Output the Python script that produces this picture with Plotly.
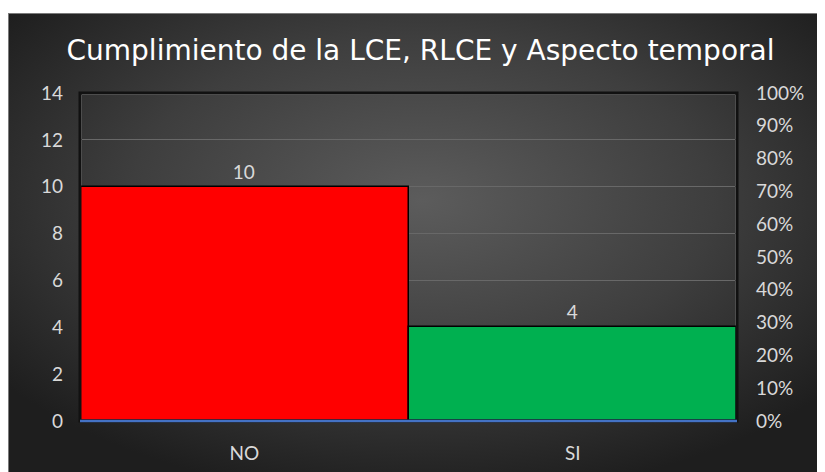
import base64
import plotly.graph_objects as go

categories = ["NO", "SI"]
values = [10, 4]
bar_colors = ["#FF0000", "#00B050"]
left_ticks = [0, 2, 4, 6, 8, 10, 12, 14]
right_ticks = [0, 10, 20, 30, 40, 50, 60, 70, 80, 90, 100]
right_tick_labels = [f"{v}%" for v in right_ticks]

# page body has an 8px margin, so figure coords = screen coords - 8
W, H = 825, 472
L, T = 72, 85
PR, PB = 729, 413          # plot right / bottom in figure px
R, B = W - PR, H - PB
pw, ph = PR - L, PB - T

svg = f'''<svg xmlns="http://www.w3.org/2000/svg" width="{W}" height="{H}" viewBox="0 0 {W} {H}" preserveAspectRatio="none">
<defs><radialGradient id="g" cx="50%" cy="40%" r="64%">
<stop offset="0%" stop-color="#5c5c5c"/><stop offset="55%" stop-color="#3e3e3e"/><stop offset="100%" stop-color="#1e1e1e"/>
</radialGradient></defs>
<rect x="0.5" y="0.5" width="{W-1}" height="{H-1}" fill="url(#g)" stroke="#7a7a7a" stroke-width="1"/>
</svg>'''
src = "data:image/svg+xml;base64," + base64.b64encode(svg.encode()).decode()

x0px, y0px = 0, 5
img_x = (x0px - L) / pw
img_y = (PB - y0px) / ph
img_sx = (W - x0px + 2) / pw
img_sy = (H - y0px + 2) / ph

tick_font = dict(family="Lato, Open Sans, sans-serif", size=19, color="#d9d9d9")

fig = go.Figure()
fig.add_trace(go.Bar(
    x=categories, y=values,
    marker=dict(color=bar_colors, line=dict(color="#000000", width=1.5)),
    text=[str(v) for v in values], textposition="outside",
    textfont=tick_font, cliponaxis=False, showlegend=False,
))
fig.add_trace(go.Scatter(x=categories, y=[None, None], yaxis="y2", showlegend=False, hoverinfo="skip"))

fig.update_layout(
    width=W, height=H,
    margin=dict(l=L, r=R, t=T, b=B),
    paper_bgcolor="white", plot_bgcolor="rgba(0,0,0,0)",
    bargap=0,
    title=dict(text="Cumplimiento de la LCE, RLCE y Aspecto temporal",
               font=dict(family="DejaVu Sans, sans-serif", size=28, color="#ffffff"),
               x=0.5, xanchor="center", y=1 - 42 / H, yanchor="middle"),
    xaxis=dict(showgrid=False, showline=False,
               tickfont=tick_font, ticks="", ticklabelstandoff=19),
    yaxis=dict(range=[0, 14], tickvals=left_ticks, showgrid=True, gridcolor="#686868",
               gridwidth=1, zeroline=False, tickfont=tick_font, ticks="", ticklabelstandoff=16),
    yaxis2=dict(overlaying="y", side="right", range=[0, 100], tickvals=right_ticks,
                ticktext=right_tick_labels, showgrid=False, zeroline=False,
                tickfont=tick_font, ticks="", ticklabelstandoff=18),
    images=[dict(source=src, xref="paper", yref="paper", x=img_x, y=img_y,
                 sizex=img_sx, sizey=img_sy, xanchor="left", yanchor="top",
                 sizing="stretch", layer="below")],
    shapes=[
        dict(type="rect", xref="paper", yref="paper", x0=0, x1=1, y0=0, y1=1,
             line=dict(color="#111111", width=3), layer="above"),
        dict(type="rect", xref="paper", yref="paper", x0=1.5 / pw, x1=1 - 1.5 / pw,
             y0=1.5 / ph, y1=1 - 1.5 / ph,
             line=dict(color="#8a8a8a", width=1), layer="below"),
        dict(type="line", xref="paper", yref="paper", x0=0, x1=1, y0=0, y1=0,
             line=dict(color="#4472C4", width=2.5), layer="above"),
    ],
)

fig.write_html("out.html")
